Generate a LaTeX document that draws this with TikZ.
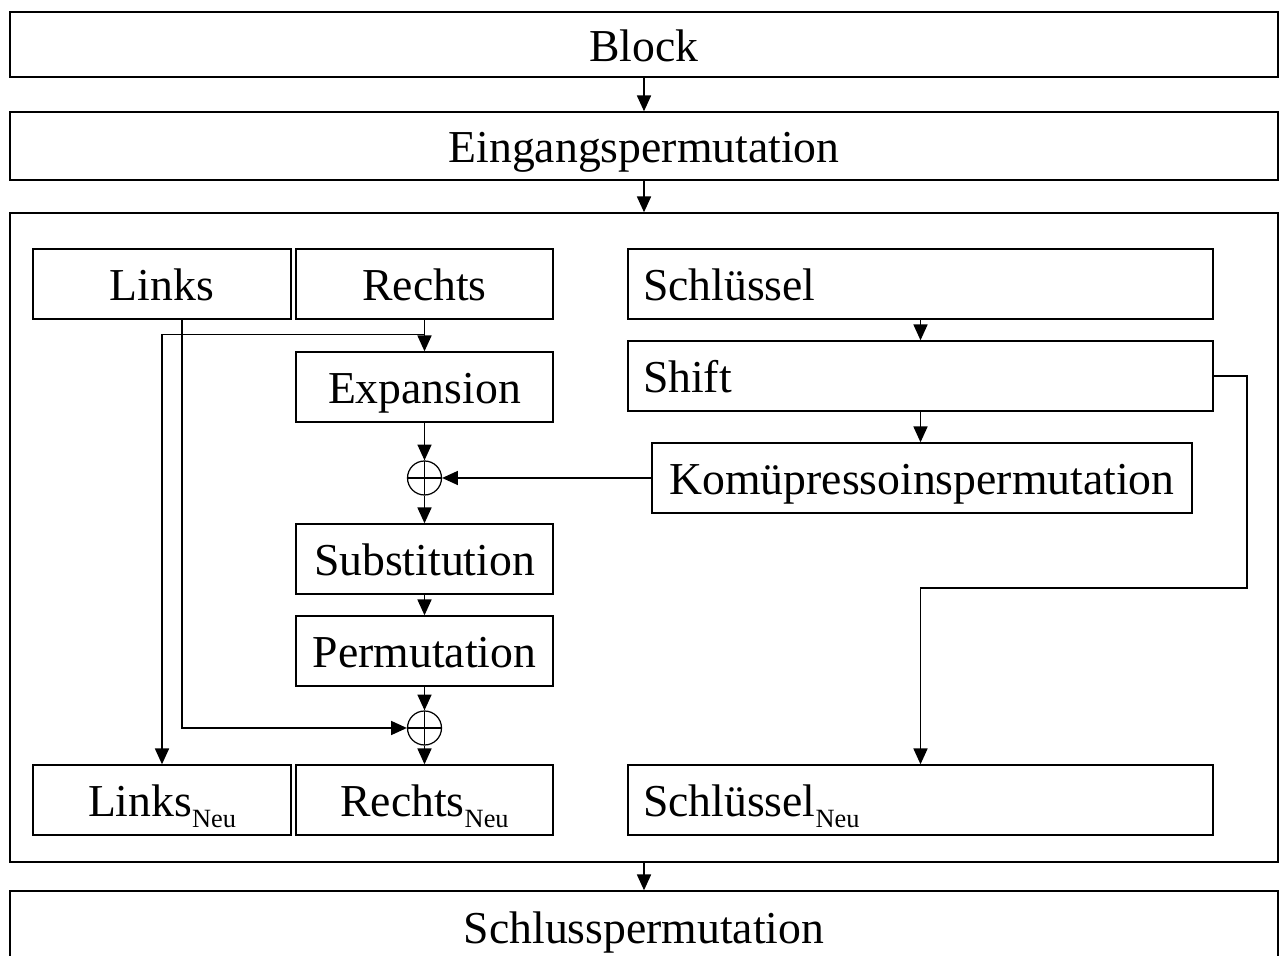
\documentclass[tikz,border=0pt]{standalone}
\usepackage{fontspec}
\setmainfont{Liberation Serif}
\usetikzlibrary{arrows.meta}

\newcommand{\neu}{\raisebox{-0.22cm}{\fontsize{15}{16}\selectfont Neu}}

\tikzset{
    box/.style={draw, line width=0.8pt, minimum height=1.40cm, inner sep=0pt,
        text height=0.8cm, text depth=0.12cm},
    keybox/.style={box, inner xsep=0.3cm, text width=11.1cm, align=left},
    xorsym/.style={circle, draw, line width=0.7pt, minimum size=0.68cm, inner sep=0pt,
        path picture={\draw (path picture bounding box.north) -- (path picture bounding box.south)
            (path picture bounding box.west) -- (path picture bounding box.east);}},
    arr/.style={-{Triangle[length=9pt,width=8pt]}, line width=0.8pt}
}

\begin{document}
\begin{tikzpicture}[font=\fontsize{26}{31}\selectfont]
        \useasboundingbox (0,0) rectangle (25.76,19.12);

        \node[box, minimum width=25.36cm, minimum height=1.30cm] (block) at (12.88,18.23) {Block};
        \node[box, minimum width=25.36cm, minimum height=1.36cm] (eingang) at (12.88,16.20) {Eingangspermutation};
        \node[draw, line width=0.8pt, minimum width=25.36cm, minimum height=12.98cm] (runde) at (12.88,8.37) {};
        \node[box, minimum width=25.36cm, minimum height=1.44cm] (schluss) at (12.88,0.58) {Schlusspermutation};

        \node[box, minimum width=5.16cm] (links) at (3.24,13.44) {Links};
        \node[box, minimum width=5.14cm] (rechts) at (8.49,13.44) {Rechts};
        \node[box, minimum width=5.14cm] (expansion) at (8.49,11.38) {Expansion};
        \node[xorsym] (xor1) at (8.49,9.56) {};
        \node[box, minimum width=5.14cm] (substitution) at (8.49,7.94) {Substitution};
        \node[box, minimum width=5.14cm] (permutation) at (8.49,6.10) {Permutation};
        \node[xorsym] (xor2) at (8.49,4.56) {};
        \node[box, minimum width=5.16cm] (linksneu) at (3.24,3.12) {Links\neu};
        \node[box, minimum width=5.14cm] (rechtsneu) at (8.49,3.12) {Rechts\neu};

        \node[keybox] (schluessel) at (18.41,13.44) {Schlüssel};
        \node[keybox] (shift) at (18.41,11.60) {Shift};
        \node[box, minimum width=10.80cm] (kompression) at (18.44,9.56) {Komüpressoinspermutation};
        \node[keybox] (schluesselneu) at (18.41,3.12) {Schlüssel\neu};

        \coordinate (ecke1) at (24.94,11.60);
        \coordinate (ecke2) at (24.94,7.36);

        \draw[arr] (block) -- (eingang);
        \draw[arr] (eingang) -- (runde);
        \draw[arr] (runde) -- (schluss);

        \draw[arr] (rechts) -- (expansion);
        \draw[arr] ([yshift=-0.3cm]rechts.south) -| (linksneu);
        \draw[arr] ([xshift=0.4cm]links.south) |- (xor2);
        \draw[arr] (expansion) -- (xor1);
        \draw[arr] (xor1) -- (substitution);
        \draw[arr] (substitution) -- (permutation);
        \draw[arr] (permutation) -- (xor2);
        \draw[arr] (xor2) -- (rechtsneu);

        \draw[arr] (schluessel) -- (shift);
        \draw[arr] (shift) -- (shift |- kompression.north);
        \draw[arr] (kompression) -- (xor1);
        \draw[arr] (shift.east) -- (ecke1) -- (ecke2) -| (schluesselneu);
    \end{tikzpicture}
\end{document}
